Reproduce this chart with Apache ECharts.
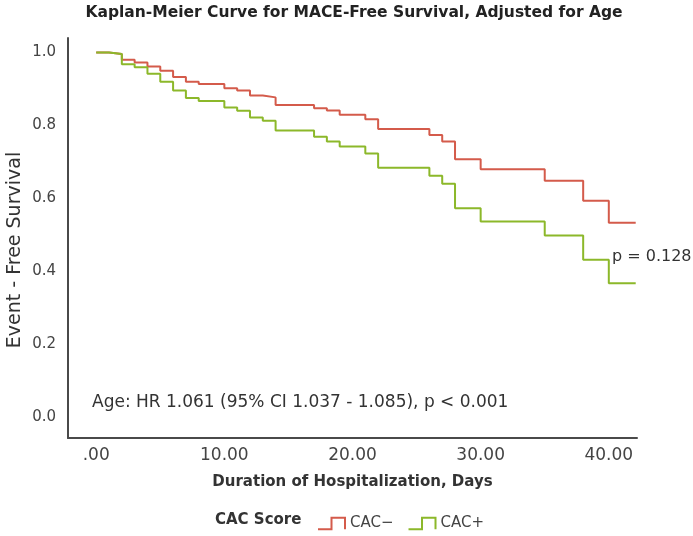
<!DOCTYPE html>
<html><head><meta charset="utf-8">
<script src="https://cdn.jsdelivr.net/npm/echarts@6/dist/echarts.min.js"></script>
<style>html,body{margin:0;padding:0;background:#fff}#c{width:693px;height:536px}</style>
</head><body><div id="c"></div>
<script>
// Event times (days) read from the step positions; last entry is end of follow-up
const eventDays = [0,1,2,3,4,5,6,7,8,10,11,12,13,14,17,18,19,21,22,26,27,28,30,35,38,40,42.1];
const cacNeg = [1.0,0.996,0.980,0.973,0.962,0.950,0.933,0.920,0.914,0.902,0.896,0.882,0.877,0.856,0.847,0.841,0.829,0.817,0.790,0.774,0.756,0.707,0.680,0.648,0.593,0.533,0.533];
const cacPos = [1.0,0.996,0.968,0.960,0.942,0.920,0.896,0.875,0.867,0.849,0.840,0.822,0.813,0.786,0.769,0.756,0.742,0.723,0.684,0.662,0.640,0.573,0.536,0.498,0.431,0.367,0.367];
const seriesNames = ['CAC\u2212','CAC+'];
const xTicks = [0,10,20,30,40];
const xTickLabels = ['.00','10.00','20.00','30.00','40.00'];
const yTicks = [0,0.2,0.4,0.6,0.8,1.0];
const yTickLabels = ['0.0','0.2','0.4','0.6','0.8','1.0'];

const RED = '#d45b4b', GREEN = '#8cb82a';
const FONT = '"DejaVu Sans", "Noto Sans", sans-serif';
const stepIcon = 'path://M0,12 L13,12 L13,1 L26,1 L26,12';

const chart = echarts.init(document.getElementById('c'), null, {renderer:'canvas'});
const pair = (xs, ys) => xs.map((x,i)=>[x, ys[i]]);

chart.setOption({
  animation: false,
  textStyle: {fontFamily: FONT},
  grid: {left: 68, right: 56, top: 38, bottom: 98},
  xAxis: {
    type: 'value', min: -2.2, max: 42.2,
    splitLine: {show:false},
    axisTick: {show:false},
    axisLine: {show:true, onZero:false, lineStyle:{color:'#4a4a4a', width:2}},
    axisLabel: {customValues: xTicks, formatter: v => xTickLabels[xTicks.indexOf(v)], color:'#444', fontSize:17, margin:9, fontFamily: FONT},
    name: 'Duration of Hospitalization, Days', nameLocation:'middle', nameGap: 37,
    nameTextStyle: {color:'#333', fontSize:15, fontWeight:'bold', fontFamily: FONT}
  },
  yAxis: {
    type: 'value', min: -0.058, max: 1.04,
    splitLine: {show:false},
    axisTick: {show:false},
    axisLine: {show:true, onZero:false, lineStyle:{color:'#4a4a4a', width:2}},
    axisLabel: {customValues: yTicks, formatter: v => yTickLabels[yTicks.findIndex(t=>Math.abs(t-v)<1e-6)], color:'#444', fontSize:15, margin:12, fontFamily: FONT}
  },
  legend: {
    left: 312, top: 511, itemWidth: 27, itemHeight: 13, itemGap: 14,
    textStyle: {color:'#444', fontSize:15, fontFamily: FONT},
    data: [
      {name: seriesNames[0], icon: stepIcon, itemStyle:{color:'rgba(0,0,0,0)', borderColor: RED, borderWidth:2}},
      {name: seriesNames[1], icon: stepIcon, itemStyle:{color:'rgba(0,0,0,0)', borderColor: GREEN, borderWidth:2}}
    ]
  },
  graphic: [
    {type:'text', x: 354, y: 13, style:{text:'Kaplan-Meier Curve for MACE-Free Survival, Adjusted for Age', fill:'#222', font:'bold 15.5px '+FONT, align:'center', verticalAlign:'middle'}},
    {type:'text', x: 15, y: 250, rotation: Math.PI/2, style:{text:'Event - Free Survival', fill:'#333', font:'19px '+FONT, align:'center', verticalAlign:'middle'}},
    {type:'text', x: 92, y: 403, style:{text:'Age: HR 1.061 (95% CI 1.037 - 1.085), p < 0.001', fill:'#333', font:'17px '+FONT, verticalAlign:'middle'}},
    {type:'text', x: 612, y: 257, style:{text:'p = 0.128', fill:'#333', font:'16px '+FONT, verticalAlign:'middle'}},
    {type:'text', x: 215, y: 520, style:{text:'CAC Score', fill:'#333', font:'bold 15px '+FONT, verticalAlign:'middle'}}
  ],
  series: [
    {name: seriesNames[0], type:'line', step:'end', showSymbol:false, data: pair(eventDays, cacNeg), lineStyle:{color:RED, width:2}, itemStyle:{color:RED}},
    {name: seriesNames[1], type:'line', step:'end', showSymbol:false, data: pair(eventDays, cacPos), lineStyle:{color:GREEN, width:2}, itemStyle:{color:GREEN}}
  ]
});
</script></body></html>
